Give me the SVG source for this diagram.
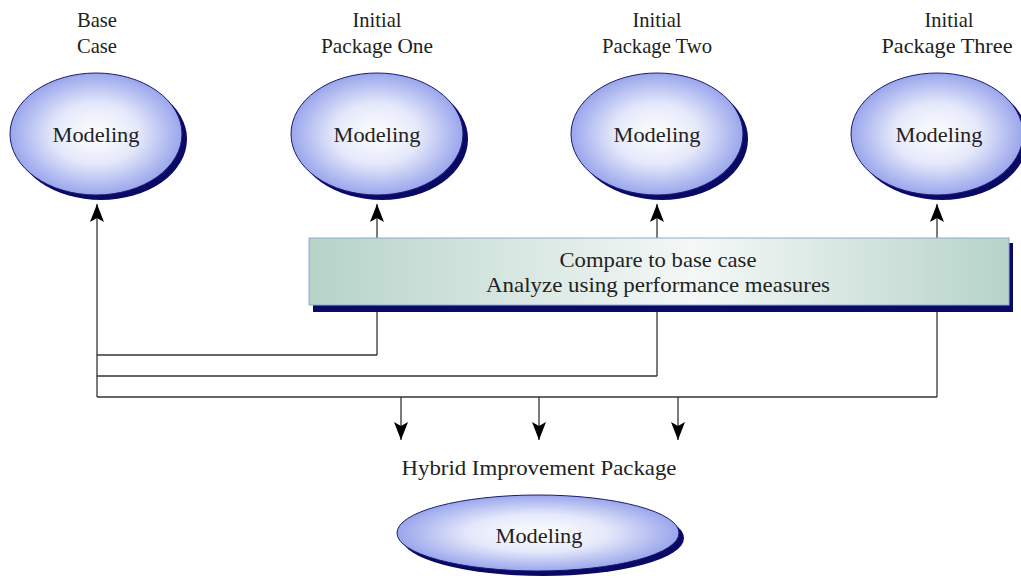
<svg xmlns="http://www.w3.org/2000/svg" width="1021" height="580" viewBox="0 0 1021 580">
<style>
text{font-family:"Liberation Serif","Times New Roman",serif;font-size:21px;fill:#222;text-anchor:middle}
.shadow{fill:#0a0a66}
.ell{fill:url(#eg);stroke:#1a1a70;stroke-width:1}
.line{fill:none;stroke:#333;stroke-width:1.3}
</style>
<defs>
<radialGradient id="eg" cx="0.5" cy="0.5" r="0.5">
<stop offset="0" stop-color="#ffffff"/>
<stop offset="0.5" stop-color="#e4e8fa"/>
<stop offset="1" stop-color="#9aa6ec"/>
</radialGradient>
<linearGradient id="bg" x1="0" y1="0" x2="1" y2="0">
<stop offset="0" stop-color="#b6d3c9"/>
<stop offset="0.55" stop-color="#f4f8f7"/>
<stop offset="1" stop-color="#b6d3c9"/>
</linearGradient>
<marker id="ah" viewBox="0 0 16 18" refX="8" refY="0" markerWidth="16" markerHeight="18" markerUnits="userSpaceOnUse" orient="0">
<path d="M8 0 L15 18 L8 14 L1 18 Z" fill="#000"/>
</marker>
<marker id="ad" viewBox="0 0 16 18" refX="8" refY="18" markerWidth="16" markerHeight="18" markerUnits="userSpaceOnUse" orient="0">
<path d="M8 18 L15 0 L8 4 L1 0 Z" fill="#000"/>
</marker>
</defs>

<g id="connectors">
<path class="line" d="M97 397 V204" marker-end="url(#ah)"/>
<path class="line" d="M377 355 V204" marker-end="url(#ah)"/>
<path class="line" d="M657 376 V204" marker-end="url(#ah)"/>
<path class="line" d="M937 397 V204" marker-end="url(#ah)"/>
<path class="line" d="M97 355 H377"/>
<path class="line" d="M97 376 H657"/>
<path class="line" d="M97 397 H937"/>
<path class="line" d="M401 397 V440" marker-end="url(#ad)"/>
<path class="line" d="M539 397 V440" marker-end="url(#ad)"/>
<path class="line" d="M678 397 V440" marker-end="url(#ad)"/>
</g>

<g id="base-case">
<text x="97" y="27" textLength="40" lengthAdjust="spacingAndGlyphs">Base</text>
<text x="97" y="53" textLength="40" lengthAdjust="spacingAndGlyphs">Case</text>
<ellipse class="shadow" cx="101" cy="139" rx="86" ry="61"/>
<ellipse class="ell" cx="96" cy="134" rx="86" ry="61"/>
<text x="96" y="142" textLength="87" lengthAdjust="spacingAndGlyphs">Modeling</text>
</g>

<g id="package-one">
<text x="377" y="27" textLength="49" lengthAdjust="spacingAndGlyphs">Initial</text>
<text x="377" y="53" textLength="112" lengthAdjust="spacingAndGlyphs">Package One</text>
<ellipse class="shadow" cx="382" cy="139" rx="86" ry="61"/>
<ellipse class="ell" cx="377" cy="134" rx="86" ry="61"/>
<text x="377" y="142" textLength="87" lengthAdjust="spacingAndGlyphs">Modeling</text>
</g>

<g id="package-two">
<text x="657" y="27" textLength="49" lengthAdjust="spacingAndGlyphs">Initial</text>
<text x="657" y="53" textLength="110" lengthAdjust="spacingAndGlyphs">Package Two</text>
<ellipse class="shadow" cx="662" cy="139" rx="86" ry="61"/>
<ellipse class="ell" cx="657" cy="134" rx="86" ry="61"/>
<text x="657" y="142" textLength="87" lengthAdjust="spacingAndGlyphs">Modeling</text>
</g>

<g id="package-three">
<text x="949" y="27" textLength="49" lengthAdjust="spacingAndGlyphs">Initial</text>
<text x="947" y="53" textLength="131" lengthAdjust="spacingAndGlyphs">Package Three</text>
<ellipse class="shadow" cx="942" cy="139" rx="86" ry="61"/>
<ellipse class="ell" cx="937" cy="134" rx="86" ry="61"/>
<text x="939" y="142" textLength="87" lengthAdjust="spacingAndGlyphs">Modeling</text>
</g>

<g id="compare-box">
<rect class="shadow" x="313" y="243" width="700" height="69"/>
<rect x="309" y="238" width="700" height="67" fill="url(#bg)" stroke="#8ea9d6" stroke-width="1"/>
<text x="658" y="267" textLength="197" lengthAdjust="spacingAndGlyphs">Compare to base case</text>
<text x="658" y="292" textLength="344" lengthAdjust="spacingAndGlyphs">Analyze using performance measures</text>
</g>

<g id="hybrid">
<text x="539" y="475" textLength="275" lengthAdjust="spacingAndGlyphs">Hybrid Improvement Package</text>
<ellipse class="shadow" cx="543" cy="538" rx="141" ry="38"/>
<ellipse class="ell" cx="538" cy="533" rx="141" ry="38"/>
<text x="539" y="543" textLength="87" lengthAdjust="spacingAndGlyphs">Modeling</text>
</g>
</svg>
